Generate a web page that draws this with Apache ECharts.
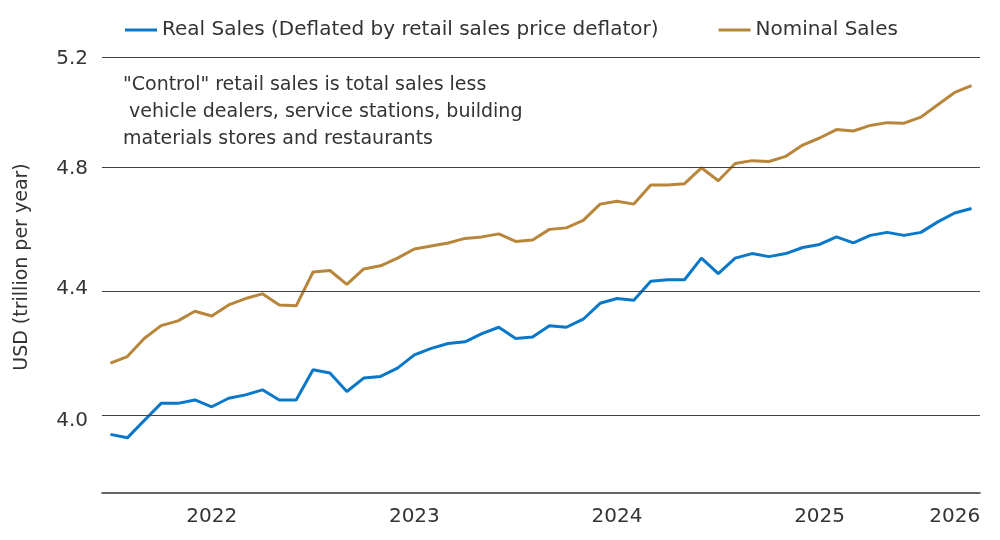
<!DOCTYPE html>
<html><head><meta charset="utf-8">
<script src="https://cdn.jsdelivr.net/npm/echarts@6/dist/echarts.min.js"></script>
<style>html,body{margin:0;padding:0;background:#fff}#c{width:1000px;height:540px}</style>
</head><body><div id="c"></div>
<script>
const months = [];
for (let y = 2022; y <= 2026; y++) for (let m = 1; m <= 12; m++) { if (y === 2026 && m > 4) break; months.push(y + '-' + String(m).padStart(2, '0')); }
const realSales = [3.96,3.95,4.00,4.05,4.05,4.06,4.04,4.065,4.075,4.09,4.06,4.06,4.15,4.14,4.085,4.125,4.13,4.155,4.195,4.215,4.23,4.235,4.26,4.28,4.245,4.25,4.285,4.28,4.305,4.355,4.37,4.365,4.425,4.43,4.43,4.50,4.45,4.50,4.515,4.505,4.515,4.535,4.545,4.57,4.55,4.575,4.585,4.575,4.585,4.62,4.65,4.665];
const nominalSales = [4.17,4.19,4.245,4.285,4.30,4.33,4.315,4.35,4.37,4.385,4.35,4.347,4.455,4.46,4.415,4.465,4.475,4.50,4.53,4.54,4.55,4.565,4.57,4.58,4.555,4.56,4.595,4.60,4.625,4.68,4.69,4.68,4.745,4.745,4.75,4.805,4.76,4.82,4.83,4.827,4.845,4.885,4.91,4.94,4.935,4.955,4.965,4.963,4.985,5.03,5.075,5.10];
const yTicks = [4.0, 4.4, 4.8, 5.2];
const L = Math.log;
const font = 'DejaVu Sans';
const chart = echarts.init(document.getElementById('c'));
chart.setOption({
  animation: false,
  legend: {top: 15, left: 120, itemWidth: 32, itemHeight: 3, itemGap: 60, icon: 'rect',
    textStyle: {fontFamily: font, fontSize: 20, color: '#333'},
    data: ['Real Sales (Deflated by retail sales price deflator)', 'Nominal Sales']},
  graphic: [{type: 'text', left: 123, top: 72, style: {text: '"Control" retail sales is total sales less\n vehicle dealers, service stations, building\nmaterials stores and restaurants', fontFamily: font, fontSize: 19, lineHeight: 27, fill: '#333'}}],
  grid: {left: 102, right: 20, top: 41, bottom: 47},
  xAxis: {type: 'category', data: months, boundaryGap: true,
    axisLine: {lineStyle: {color: '#333', width: 1.5}},
    axisTick: {interval: (i) => i % 12 === 0, length: 6, lineStyle: {color: '#333'}},
    axisLabel: {interval: (i) => i === 6 || i === 18 || i === 30 || i === 42 || i === 50, formatter: (v) => v.slice(0, 4), fontFamily: font, fontSize: 20, color: '#333', margin: 14},
    splitLine: {show: false}},
  yAxis: {type: 'value', min: L(3.795), max: L(5.268),
    name: 'USD (trillion per year)', nameLocation: 'middle', nameGap: 70, nameTextStyle: {fontFamily: font, fontSize: 19, color: '#333'},
    axisLine: {show: false}, axisTick: {show: false}, splitLine: {show: false},
    axisLabel: {customValues: yTicks.map(L), formatter: (v) => Math.exp(v).toFixed(1), fontFamily: font, fontSize: 20, color: '#333', margin: 14}},
  series: [
    {name: 'Real Sales (Deflated by retail sales price deflator)', type: 'line', data: realSales.map(L), symbol: 'none', lineStyle: {width: 3, color: '#0a78c8'}, itemStyle: {color: '#0a78c8'},
     markLine: {silent: true, symbol: 'none', label: {show: false}, lineStyle: {type: 'solid', color: '#444', width: 1}, data: yTicks.map(t => ({yAxis: L(t)}))}},
    {name: 'Nominal Sales', type: 'line', data: nominalSales.map(L), symbol: 'none', lineStyle: {width: 3, color: '#b8863b'}, itemStyle: {color: '#b8863b'}}
  ]
});
</script></body></html>
